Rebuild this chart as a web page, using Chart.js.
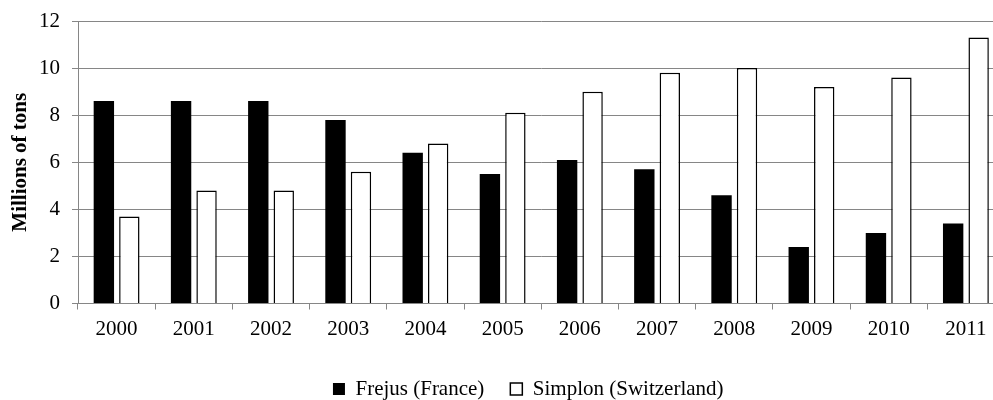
<!DOCTYPE html>
<html>
<head>
<meta charset="utf-8">
<script src="https://cdn.jsdelivr.net/npm/chart.js@4/dist/chart.umd.min.js"></script>
<style>
    html, body { margin: 0; padding: 0; background: #fff; }
    #wrap { width: 993px; height: 400px; overflow: hidden; }
    #wrap canvas { display: block; }
</style>
</head>
<body>
<div id="wrap"><canvas id="tunnelChart" width="1010" height="410"></canvas></div>
<script>
const years = ['2000', '2001', '2002', '2003', '2004', '2005', '2006', '2007', '2008', '2009', '2010', '2011'];
const frejus = [8.6, 8.6, 8.6, 7.8, 6.4, 5.5, 6.1, 5.7, 4.6, 2.4, 3.0, 3.4];
const simplon = [3.7, 4.8, 4.8, 5.6, 6.8, 8.1, 9.0, 9.8, 10.0, 9.2, 9.6, 11.3];
const yTicks = [0, 2, 4, 6, 8, 10, 12];

const serif = "'Liberation Serif', 'Times New Roman', serif";
const gridGray = '#868686';

// legend sits a bit right of centre in the original
const legendShift = {
    id: 'legendShift',
    afterLayout(chart) {
        chart.legend.left += 26;
        chart.legend.right += 26;
    }
};

document.addEventListener('DOMContentLoaded', () => {
    const ctx = document.getElementById('tunnelChart').getContext('2d');

    new Chart(ctx, {
        type: 'bar',
        data: {
            labels: years,
            datasets: [{
                label: 'Frejus (France)',
                data: frejus,
                backgroundColor: '#000000',
                borderColor: '#000000',
                borderWidth: 0
            }, {
                label: 'Simplon (Switzerland)',
                data: simplon,
                backgroundColor: '#ffffff',
                borderColor: '#000000',
                borderWidth: 1.5
            }]
        },
        plugins: [legendShift],
        options: {
            responsive: false,
            animation: false,
            devicePixelRatio: 1,
            categoryPercentage: 0.66,
            barPercentage: 0.8,
            layout: {
                padding: { left: 0, right: 5.5, top: 21, bottom: 0.5 }
            },
            plugins: {
                tooltip: { enabled: false },
                legend: {
                    position: 'bottom',
                    labels: {
                        font: { family: serif, size: 21 },
                        color: '#000',
                        boxWidth: 12,
                        boxHeight: 12,
                        padding: 26
                    }
                }
            },
            scales: {
                x: {
                    grid: {
                        display: true,
                        drawOnChartArea: false,
                        drawTicks: true,
                        tickLength: 6,
                        color: gridGray,
                        offset: true
                    },
                    border: { display: true, color: gridGray, width: 1 },
                    ticks: {
                        font: { family: serif, size: 21 },
                        color: '#000',
                        padding: 7,
                        maxRotation: 0
                    },
                    afterFit: (scale) => {
                        scale.height = 49;
                    }
                },
                y: {
                    min: 0,
                    max: 12,
                    afterBuildTicks: (scale) => {
                        scale.ticks = yTicks.map(v => ({ value: v }));
                    },
                    afterFit: (scale) => {
                        scale.width = 78;
                        scale.paddingTop = 0;
                        scale.paddingBottom = 0;
                    },
                    grid: {
                        color: gridGray,
                        lineWidth: 1,
                        drawTicks: true,
                        tickLength: 6
                    },
                    border: { display: true, color: gridGray, width: 1 },
                    ticks: {
                        font: { family: serif, size: 21 },
                        color: '#000',
                        padding: 12
                    },
                    title: {
                        display: true,
                        text: 'Millions of tons',
                        font: { family: serif, size: 21, weight: 'bold' },
                        color: '#000',
                        padding: { top: 8, bottom: 6 }
                    }
                }
            }
        }
    });
});
</script>
</body>
</html>
